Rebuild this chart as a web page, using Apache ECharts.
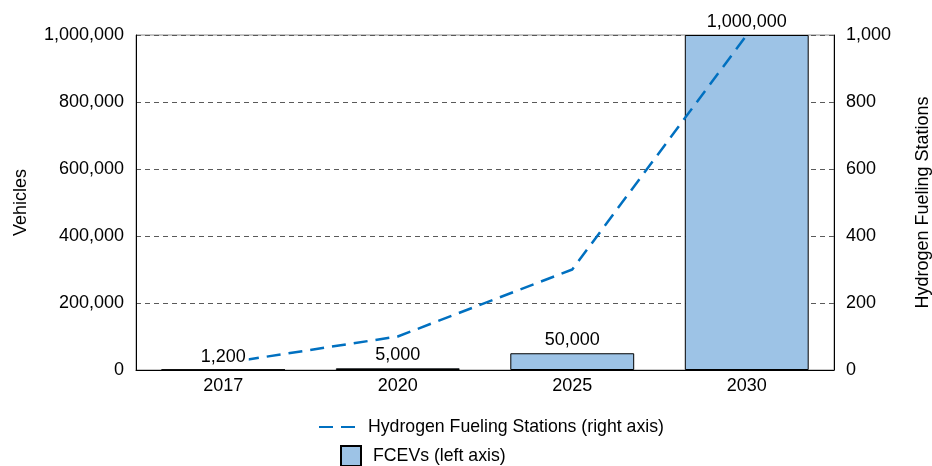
<!DOCTYPE html>
<html>
<head>
<meta charset="utf-8">
<script src="https://cdn.jsdelivr.net/npm/echarts@6/dist/echarts.min.js"></script>
<style>
html,body{margin:0;padding:0;background:#fff;}
#chart{width:932px;height:466px;}
</style>
</head>
<body>
<div id="chart"></div>
<script>
const categories = ['2017', '2020', '2025', '2030'];
const fcevs = [1200, 5000, 50000, 1000000];
const stations = [20, 100, 300, 1000];
const leftTicks = { min: 0, max: 1000000, interval: 200000 };
const rightTicks = { min: 0, max: 1000, interval: 200 };
const lineName = 'Hydrogen Fueling Stations (right axis)';
const barName = 'FCEVs (left axis)';

const FONT = 'Liberation Sans, Arial, sans-serif';
const FS = 18;
const fmt = v => Number(v).toLocaleString('en-US');

const chart = echarts.init(document.getElementById('chart'), null, { renderer: 'canvas' });
chart.setOption({
  animation: false,
  textStyle: { fontFamily: FONT, color: '#000' },
  grid: { left: 136, right: 98, top: 35, bottom: 96, show: true, borderColor: '#8c8c8c', borderWidth: 1,
    containLabel: false, outerBoundsMode: 'none' },
  legend: [
    { data: [{ name: lineName, itemStyle: { opacity: 0 } }], left: 318, top: 418, padding: 0,
      itemWidth: 40, itemHeight: 14, itemGap: 10,
      textStyle: { fontSize: FS - 0.3, color: '#000', fontFamily: FONT, padding: [0, 0, 0, 4] } },
    { data: [{ name: barName, icon: 'rect' }], left: 340, top: 445, padding: 0,
      itemWidth: 20, itemHeight: 20, itemGap: 12,
      textStyle: { fontSize: FS - 0.3, color: '#000', fontFamily: FONT, padding: [0, 0, 0, 7] } }
  ],
  xAxis: {
    type: 'category', data: categories,
    axisTick: { show: false },
    axisLine: { show: true, lineStyle: { color: '#000', width: 1 } },
    axisLabel: { fontSize: FS, color: '#000', margin: 7, fontFamily: FONT }
  },
  yAxis: [
    { type: 'value', min: leftTicks.min, max: leftTicks.max, interval: leftTicks.interval,
      name: 'Vehicles', nameLocation: 'middle', nameRotate: 90, nameGap: 106,
      nameTextStyle: { fontSize: FS, color: '#000', fontFamily: FONT },
      axisLine: { show: true, lineStyle: { color: '#000' } }, axisTick: { show: false },
      axisLabel: { fontSize: FS, color: '#000', margin: 12, formatter: fmt, fontFamily: FONT },
      splitLine: { show: true, lineStyle: { color: '#5a5a5a', type: [5, 4], width: 1 } } },
    { type: 'value', min: rightTicks.min, max: rightTicks.max, interval: rightTicks.interval,
      name: 'Hydrogen Fueling Stations', nameLocation: 'middle', nameRotate: 90, nameGap: 80,
      nameTextStyle: { fontSize: FS, color: '#000', fontFamily: FONT },
      axisLine: { show: true, lineStyle: { color: '#000' } }, axisTick: { show: false },
      axisLabel: { fontSize: FS, color: '#000', margin: 12, formatter: fmt, fontFamily: FONT },
      splitLine: { show: false } }
  ],
  series: [
    { name: barName, type: 'bar', yAxisIndex: 0, data: fcevs, barWidth: '71%', z: 2,
      itemStyle: { color: '#9dc3e6', borderColor: '#000', borderWidth: 1 } },
    { name: lineName, type: 'line', yAxisIndex: 1, data: stations, z: 3,
      symbol: 'none', smooth: false,
      lineStyle: { color: '#0070c0', width: 2.5, type: [14, 8] },
      itemStyle: { color: '#0070c0' } },
    { name: 'labels', type: 'bar', yAxisIndex: 0, data: fcevs, barWidth: '71%', barGap: '-100%', z: 4,
      itemStyle: { color: 'rgba(0,0,0,0)', borderWidth: 0 },
      label: { show: true, position: 'top', distance: 4, fontSize: FS, color: '#000', fontFamily: FONT,
        formatter: p => fmt(p.value), backgroundColor: '#fff', padding: [1, 3, 0, 3] } }
  ]
});
</script>
</body>
</html>
